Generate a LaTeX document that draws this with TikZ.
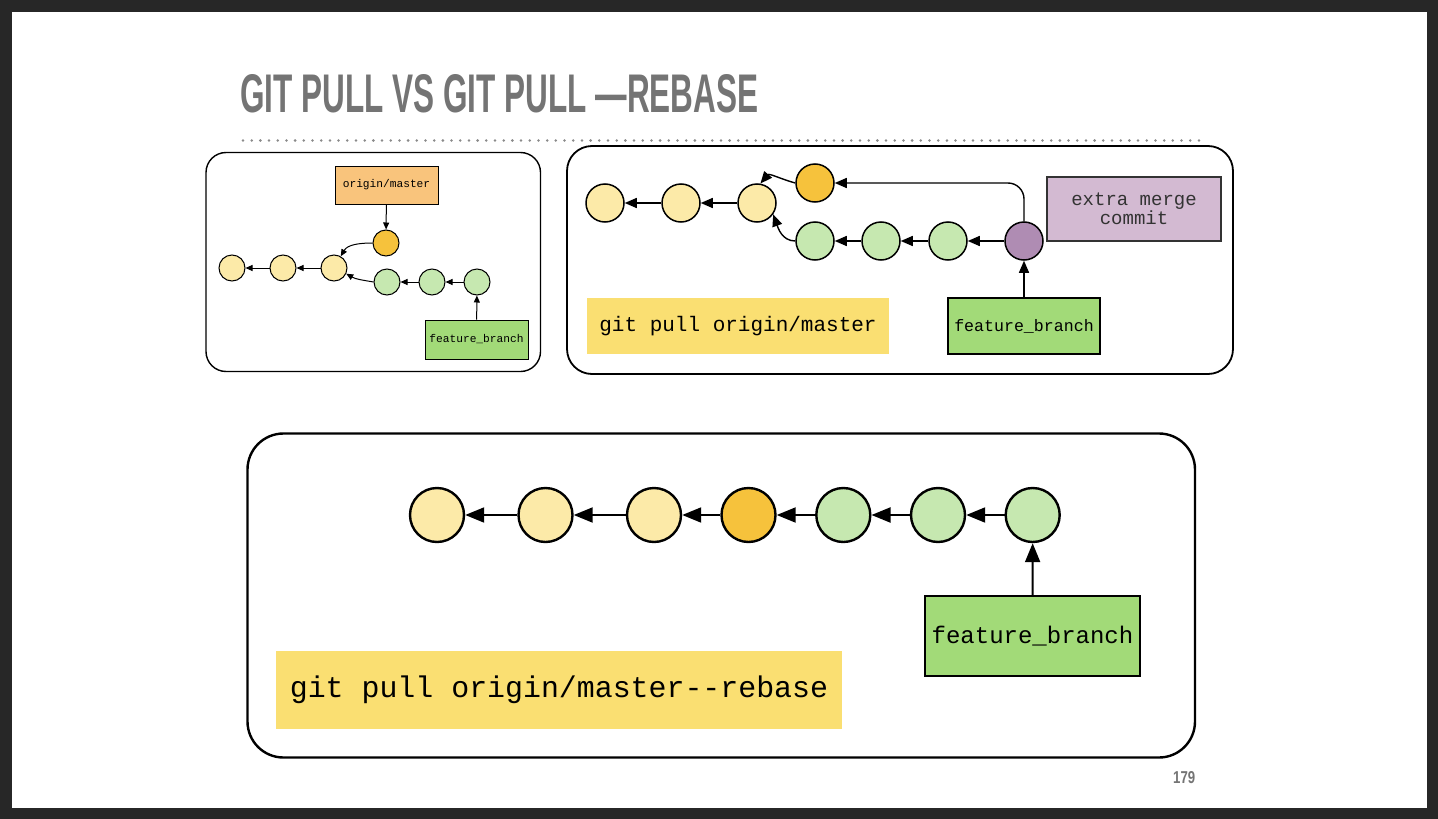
\documentclass[tikz,border=0pt]{standalone}
\usepackage{graphicx}
\usepackage{fontspec}
\setmainfont{Liberation Sans}
\newfontfamily\monof{Liberation Mono}
\usetikzlibrary{arrows.meta}
\definecolor{framec}{HTML}{272727}
\definecolor{titlegray}{HTML}{747474}
\definecolor{dotgray}{HTML}{8A8A8A}
\definecolor{cyellow}{HTML}{FCEAA8}
\definecolor{corange}{HTML}{F6C23C}
\definecolor{cgreen}{HTML}{C6E8B0}
\definecolor{cpurple}{HTML}{AF8CB3}
\definecolor{lorange}{HTML}{F9C47C}
\definecolor{lgreen}{HTML}{A2DA78}
\definecolor{lmauve}{HTML}{D3BAD2}
\definecolor{lyellow}{HTML}{FADF72}
\definecolor{mtext}{HTML}{333333}
\tikzset{
  commit/.style={circle, draw=black, inner sep=0pt},
  sA/.style={commit, minimum size=26pt, line width=1pt},
  sB/.style={commit, minimum size=38pt, line width=1.5pt},
  sC/.style={commit, minimum size=54pt, line width=2.4pt},
  cy/.style={fill=cyellow},
  co/.style={fill=corange},
  cg/.style={fill=cgreen},
  cp/.style={fill=cpurple},
  arrA/.style={-{Triangle[length=7pt,width=6pt]}, line width=1pt},
  arrB/.style={-{Triangle[length=12pt,width=10pt]}, line width=1.4pt},
  arrC/.style={-{Triangle[length=19pt,width=15pt]}, line width=2pt},
  frame/.style={draw=black},
  lbl/.style={inner sep=0pt, font=\monof},
}
\begin{document}
\begin{tikzpicture}[x=1pt,y=1pt]
\fill[framec] (0,0) rectangle (1438,-819);
\fill[white] (12,-12) rectangle (1427,-808);
\useasboundingbox (0,0) rectangle (1438,-819);

% title
\node[anchor=south west, inner sep=0pt, text=titlegray] (title) at (240,-113)
  {\resizebox{518pt}{38pt}{\bfseries GIT PULL VS GIT PULL —REBASE}};
\coordinate (dotA) at (243,-140.5);
\coordinate (dotB) at (1199,-140.5);
\draw[dotgray, line width=2.8pt, line cap=round, dash pattern=on 0pt off 8.69pt] (dotA) -- (dotB);

% panels
\draw[frame, line width=1.4pt, rounded corners=20pt] (206,-152.5) rectangle (540.5,-371.5);
\draw[frame, line width=1.8pt, rounded corners=25pt] (567,-146) rectangle (1233,-374);
\draw[frame, line width=2.4pt, rounded corners=36pt] (247.5,-433.5) rectangle (1195,-757.5);

% ---------- panel 1 ----------
\node[lbl, draw=black, line width=0.8pt, fill=lorange, minimum width=103pt, minimum height=38pt,
  font=\monof\fontsize{11.2}{12}\selectfont] (om1) at (386.5,-185) {origin/master};
\node[sA, co] (o1) at (386,-243) {};
\node[sA, cy] (y11) at (232,-268) {};
\node[sA, cy] (y12) at (283,-268) {};
\node[sA, cy] (y13) at (334,-268) {};
\node[sA, cg] (g11) at (387,-282) {};
\node[sA, cg] (g12) at (432,-282) {};
\node[sA, cg] (g13) at (477,-282) {};
\node[lbl, draw=black, line width=0.8pt, fill=lgreen, minimum width=103pt, minimum height=39pt,
  font=\monof\fontsize{11.2}{12}\selectfont] (fb1) at (476.5,-339.5) {feature\_branch};
\draw[arrA] (om1) -- (o1);
\draw[arrA] (y12) -- (y11);
\draw[arrA] (y13) -- (y12);
\draw[arrA] (o1.west) to[out=180,in=60] (y13.60);
\draw[arrA] (g11.west) to[out=170,in=-30] (y13.-25);
\draw[arrA] (g12) -- (g11);
\draw[arrA] (g13) -- (g12);
\draw[arrA] (fb1) -- (g13);

% ---------- panel 2 ----------
\node[sB, cy] (y21) at (605,-203) {};
\node[sB, cy] (y22) at (681,-203) {};
\node[sB, cy] (y23) at (757,-203) {};
\node[sB, co] (o2) at (815,-183) {};
\node[sB, cg] (g21) at (815,-241) {};
\node[sB, cg] (g22) at (881,-241) {};
\node[sB, cg] (g23) at (948,-241) {};
\node[sB, cp] (p2) at (1024,-241) {};
\node[lbl, draw=mtext, line width=1.5pt, fill=lmauve, minimum width=174pt, minimum height=64pt,
  align=center, text=mtext, font=\monof\fontsize{19}{19}\selectfont] (emc) at (1134,-209) {extra merge\\commit};
\node[lbl, draw=black, line width=1.5pt, fill=lgreen, minimum width=152pt, minimum height=56pt,
  font=\monof\fontsize{16.6}{18}\selectfont] (fb2) at (1024,-326) {feature\_branch};
\node[lbl, fill=lyellow, minimum width=302pt, minimum height=56pt,
  font=\monof\fontsize{21}{22}\selectfont] (gp2) at (738,-326) {git pull origin/master};
\draw[arrB] (y22) -- (y21);
\draw[arrB] (y23) -- (y22);
\draw[arrB] (o2.west) to[out=165,in=50] (y23.80);
\draw[arrB] (g21.west) to[out=180,in=-70] (y23.-35);
\draw[arrB] (g22) -- (g21);
\draw[arrB] (g23) -- (g22);
\draw[arrB] (p2) -- (g23);
\draw[arrB, rounded corners=16pt] (p2.north) |- (o2.east);
\draw[arrB] (fb2) -- (p2);

% ---------- panel 3 ----------
\node[sC, cy] (y31) at (437,-515) {};
\node[sC, cy] (y32) at (545.5,-515) {};
\node[sC, cy] (y33) at (654,-515) {};
\node[sC, co] (o3) at (748.5,-515) {};
\node[sC, cg] (g31) at (843.3,-515) {};
\node[sC, cg] (g32) at (938,-515) {};
\node[sC, cg] (g33) at (1032.7,-515) {};
\node[lbl, draw=black, line width=2pt, fill=lgreen, minimum width=215pt, minimum height=80pt,
  font=\monof\fontsize{24}{26}\selectfont] (fb3) at (1032.5,-636) {feature\_branch};
\node[lbl, fill=lyellow, minimum width=566pt, minimum height=78pt,
  font=\monof\fontsize{29.9}{32}\selectfont] (gp3) at (559,-690) {git pull origin/master-{}-rebase};
\draw[arrC] (y32) -- (y31);
\draw[arrC] (y33) -- (y32);
\draw[arrC] (o3) -- (y33);
\draw[arrC] (g31) -- (o3);
\draw[arrC] (g32) -- (g31);
\draw[arrC] (g33) -- (g32);
\draw[arrC] (fb3) -- (g33);

% page number
\node[inner sep=0pt, text=titlegray, anchor=south west] (pnum) at (1173,-783.5)
  {\resizebox{22pt}{12pt}{\bfseries 179}};
\end{tikzpicture}
\end{document}
